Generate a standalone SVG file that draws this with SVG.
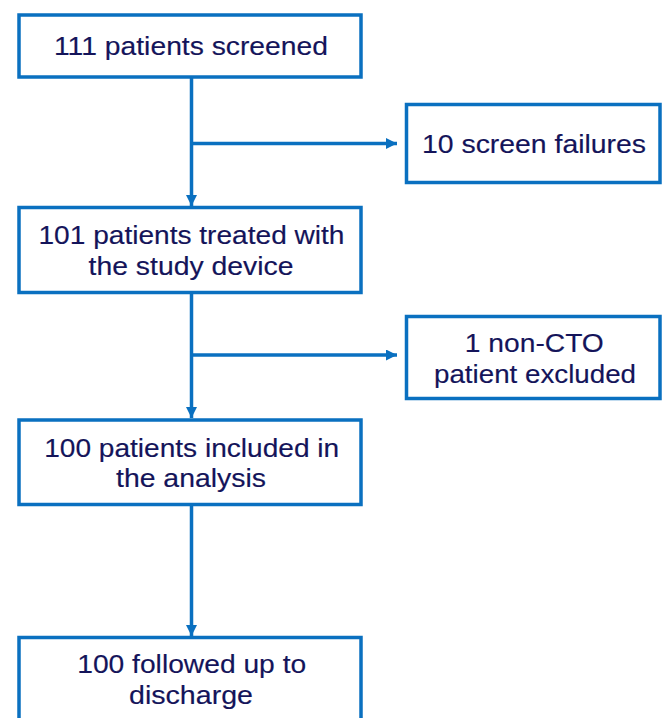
<svg xmlns="http://www.w3.org/2000/svg" width="664" height="718" viewBox="0 0 664 718">
<style>
.box{fill:#ffffff;stroke:#0a70c0;stroke-width:3.5}
.lbl{font-family:"Liberation Sans",Arial,sans-serif;font-size:25.5px;fill:#14145a;stroke:#14145a;stroke-width:0.15;text-anchor:middle}
.ln{stroke:#0a70c0;stroke-width:3.5;fill:none}
</style>
<defs>
<marker id="ah" markerUnits="userSpaceOnUse" markerWidth="12" markerHeight="11" refX="11" refY="5.5" orient="auto" viewBox="0 0 12 11">
<path d="M0,0 L11,5.5 L0,11 z" fill="#0a70c0"/>
</marker>
</defs>
<rect width="664" height="718" fill="#ffffff"/>
<g id="connectors">
<line class="ln" x1="191.5" y1="77" x2="191.5" y2="206" marker-end="url(#ah)"/>
<line class="ln" x1="191.5" y1="143.5" x2="397" y2="143.5" marker-end="url(#ah)"/>
<line class="ln" x1="191.5" y1="292.5" x2="191.5" y2="418" marker-end="url(#ah)"/>
<line class="ln" x1="191.5" y1="355" x2="397" y2="355" marker-end="url(#ah)"/>
<line class="ln" x1="191.5" y1="504.5" x2="191.5" y2="636" marker-end="url(#ah)"/>
</g>
<g id="screened">
<rect class="box" x="19" y="15" width="342" height="62"/>
<text class="lbl" x="191" y="54.8" textLength="274" lengthAdjust="spacingAndGlyphs">111 patients screened</text>
</g>
<g id="failures">
<rect class="box" x="406.5" y="104.5" width="253.5" height="78"/>
<text class="lbl" x="534" y="152.6" textLength="224" lengthAdjust="spacingAndGlyphs">10 screen failures</text>
</g>
<g id="treated">
<rect class="box" x="19" y="207.5" width="342" height="85"/>
<text class="lbl" x="191.5" y="243.5" textLength="306" lengthAdjust="spacingAndGlyphs">101 patients treated with</text>
<text class="lbl" x="191" y="274.5" textLength="205" lengthAdjust="spacingAndGlyphs">the study device</text>
</g>
<g id="excluded">
<rect class="box" x="406.5" y="316.5" width="253.5" height="82"/>
<text class="lbl" x="534.3" y="352.2" textLength="139" lengthAdjust="spacingAndGlyphs">1 non-CTO</text>
<text class="lbl" x="535" y="383" textLength="202" lengthAdjust="spacingAndGlyphs">patient excluded</text>
</g>
<g id="included">
<rect class="box" x="19" y="420" width="342" height="84.5"/>
<text class="lbl" x="191.7" y="456.6" textLength="295" lengthAdjust="spacingAndGlyphs">100 patients included in</text>
<text class="lbl" x="191" y="487" textLength="150" lengthAdjust="spacingAndGlyphs">the analysis</text>
</g>
<g id="discharge">
<rect class="box" x="19" y="637.5" width="342" height="100"/>
<text class="lbl" x="191.7" y="672.6" textLength="229" lengthAdjust="spacingAndGlyphs">100 followed up to</text>
<text class="lbl" x="191" y="704" textLength="124" lengthAdjust="spacingAndGlyphs">discharge</text>
</g>
</svg>
